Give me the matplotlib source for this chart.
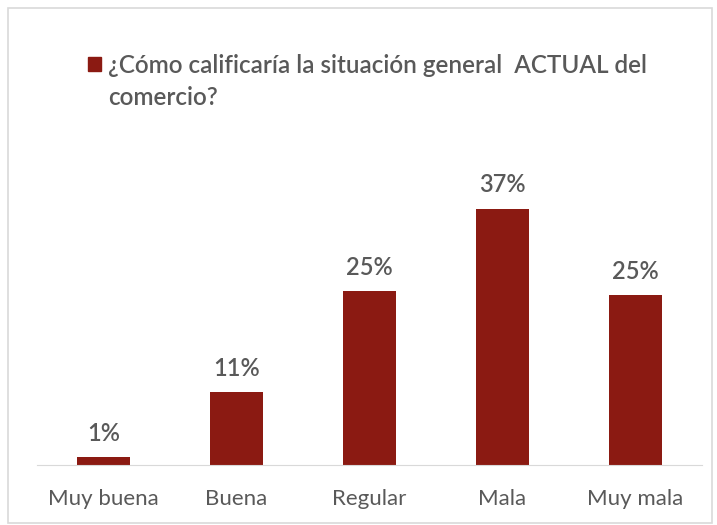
import matplotlib.pyplot as plt
from matplotlib.patches import Rectangle

# respuestas por categoria (%)
categorias = ['Muy buena', 'Buena', 'Regular', 'Mala', 'Muy mala']
porcentajes = [1.1, 10.6, 25.4, 37.4, 24.8]
pregunta = '¿Cómo calificaría la situación general  ACTUAL del\ncomercio?'

rojo = '#8B1A12'
gris = '#595959'
plt.rcParams['font.family'] = ['Lato', 'DejaVu Sans']

fig = plt.figure(figsize=(7.17, 5.25), dpi=100)
fig.patches.append(Rectangle((0.011, 0.004), 0.982, 0.98, transform=fig.transFigure,
                             fill=False, edgecolor='#d9d9d9', linewidth=1.2))

ax = fig.add_axes([37 / 717, 60 / 525, 665 / 717, 315 / 525])
x = range(len(categorias))
bars = ax.bar(x, porcentajes, width=0.4, color=rojo)
for b, v in zip(bars, porcentajes):
    ax.annotate(f'{v:.0f}%', (b.get_x() + b.get_width() / 2, v),
                xytext=(0, 9), textcoords='offset points',
                ha='center', va='bottom', fontsize=17, color=gris,
                fontweight='semibold')

ax.set_xlim(-0.5, 4.5)
ax.set_ylim(0, 46)
ax.set_xticks(list(x))
ax.set_xticklabels(categorias, fontsize=16, color=gris)
ax.tick_params(axis='x', length=0, pad=17)
ax.set_yticks([])
for s in ['top', 'right', 'left']:
    ax.spines[s].set_visible(False)
ax.spines['bottom'].set_color('#d9d9d9')

# leyenda con la pregunta
fig.patches.append(Rectangle((88 / 717, 1 - 71 / 525), 13 / 717, 14 / 525,
                             transform=fig.transFigure, color=rojo))
fig.text(108 / 717, 1 - 54 / 525, pregunta, fontsize=17.5, color=gris,
         va='top', ha='left', linespacing=1.45, fontweight='semibold')

plt.savefig('out.png', dpi=100)
